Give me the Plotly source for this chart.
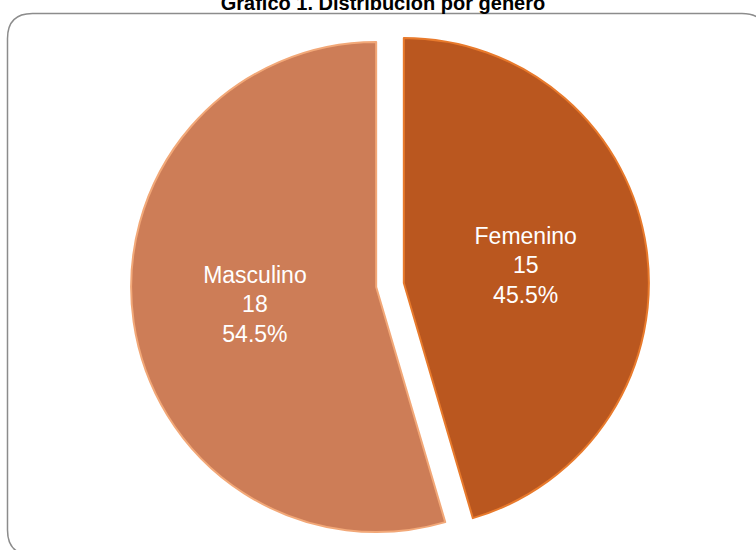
import plotly.graph_objects as go

W, H = 756, 550

labels = ["Femenino", "Masculino"]
values = [15, 18]
colors = ["#BA571F", "#CD7D57"]
edge_colors = ["#E87A2C", "#F2A878"]
title_text = "Gráfico 1. Distribución por género"


def px(x, y):
    return x / W, 1 - y / H


def P(x, y):
    a, b = px(x, y)
    return f"{a:.5f},{b:.5f}"


# rounded frame path (pixel positions -> paper)
L, T, R, B, rad = 7.5, 13.5, 767, 555, 25
path = (
    f"M {P(L+rad, T)} L {P(R-rad, T)} Q {P(R, T)} {P(R, T+rad)} "
    f"L {P(R, B-rad)} Q {P(R, B)} {P(R-rad, B)} "
    f"L {P(L+rad, B)} Q {P(L, B)} {P(L, B-rad)} "
    f"L {P(L, T+rad)} Q {P(L, T)} {P(L+rad, T)} Z"
)

fig = go.Figure()
fig.add_trace(go.Pie(
    labels=labels,
    values=values,
    sort=False,
    direction="clockwise",
    rotation=0,
    pull=[0.057, 0.057],
    marker=dict(colors=colors, line=dict(color=edge_colors, width=2)),
    texttemplate="%{label}<br>%{value}<br>%{percent:.1%}",
    textposition="inside",
    insidetextorientation="horizontal",
    textfont=dict(family="Liberation Sans, Arial, sans-serif", size=23, color="white"),
    showlegend=False,
    hoverinfo="label+value+percent",
    domain=dict(x=[131 / W, 649 / W], y=[1 - 544 / H, 1 - 26 / H]),
))

fig.update_layout(
    width=W,
    height=H,
    margin=dict(l=0, r=0, t=0, b=0),
    paper_bgcolor="white",
    plot_bgcolor="white",
    title=dict(
        text="<b>" + title_text + "</b>",
        x=383 / W,
        xanchor="center",
        y=1 - 3 / H,
        yanchor="middle",
        yref="container",
        font=dict(family="Liberation Sans, Arial, sans-serif", size=20, color="black"),
    ),
    shapes=[dict(
        type="path",
        path=path,
        xref="paper",
        yref="paper",
        line=dict(color="#8C8C8C", width=1.5),
        layer="below",
    )],
)

fig.write_html(
    "out.html",
    config={"displayModeBar": False},
    post_script="document.body.style.margin='0';",
)
